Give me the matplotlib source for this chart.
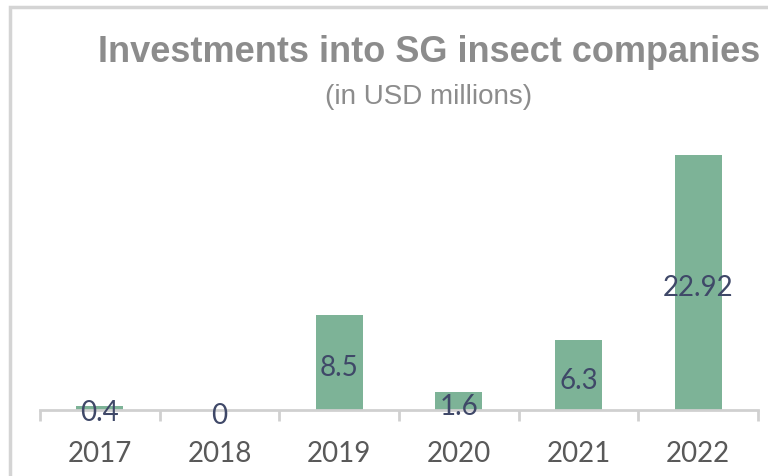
import matplotlib.pyplot as plt
from matplotlib.patches import Rectangle
import numpy as np

years = ['2017', '2018', '2019', '2020', '2021', '2022']
investments = [0.4, 0, 8.5, 1.6, 6.3, 22.92]
value_labels = ['0.4', '0', '8.5', '1.6', '6.3', '22.92']

W, H = 768, 476
fig = plt.figure(figsize=(W / 100, H / 100), dpi=100)

# outer chart frame (cropped in the original screenshot)
fig.patches.append(Rectangle((10 / W, -0.1), 1.2, (H - 7) / H + 0.1,
                             transform=fig.transFigure, fill=False,
                             edgecolor='#d4d4d4', linewidth=2.5))

ax = fig.add_axes([40 / W, 66 / H, 718 / W, 278 / H])
x = np.arange(len(years))
ax.bar(x, investments, width=0.39, color='#7db397')

for xi, v, lab in zip(x, investments, value_labels):
    ax.annotate(lab, (xi, v / 2), xytext=(0, -4), textcoords='offset points',
                ha='center', va='center', fontsize=20,
                color='#3f4868', family=['Lato', 'DejaVu Sans'])

ax.set_xlim(-0.5, len(years) - 0.5)
ax.set_ylim(0, 25)
for s in ['top', 'left', 'right']:
    ax.spines[s].set_visible(False)
ax.spines['bottom'].set_color('#d0d0d0')
ax.spines['bottom'].set_linewidth(2)
ax.set_yticks([])
ax.set_xticks(x)
ax.set_xticklabels(years, fontsize=20, color='#595959', family=['Lato', 'DejaVu Sans'])
ax.tick_params(axis='x', which='major', length=0, pad=22)
ax.set_xticks(np.arange(-0.5, len(years)), minor=True)
ax.tick_params(axis='x', which='minor', length=8, width=2, color='#d0d0d0', direction='out')

fig.text(98 / W, 1 - 52 / H, 'Investments into SG insect companies',
         ha='left', va='center', fontsize=26, fontweight='bold', color='#8c8c8c',
         family=['Liberation Sans Narrow', 'Liberation Sans', 'DejaVu Sans'])
fig.text(429 / W, 1 - 97 / H, '(in USD millions)',
         ha='center', va='center', fontsize=20, color='#8c8c8c',
         family=['Liberation Sans Narrow', 'Liberation Sans', 'DejaVu Sans'])

fig.savefig('out.png', dpi=100)
